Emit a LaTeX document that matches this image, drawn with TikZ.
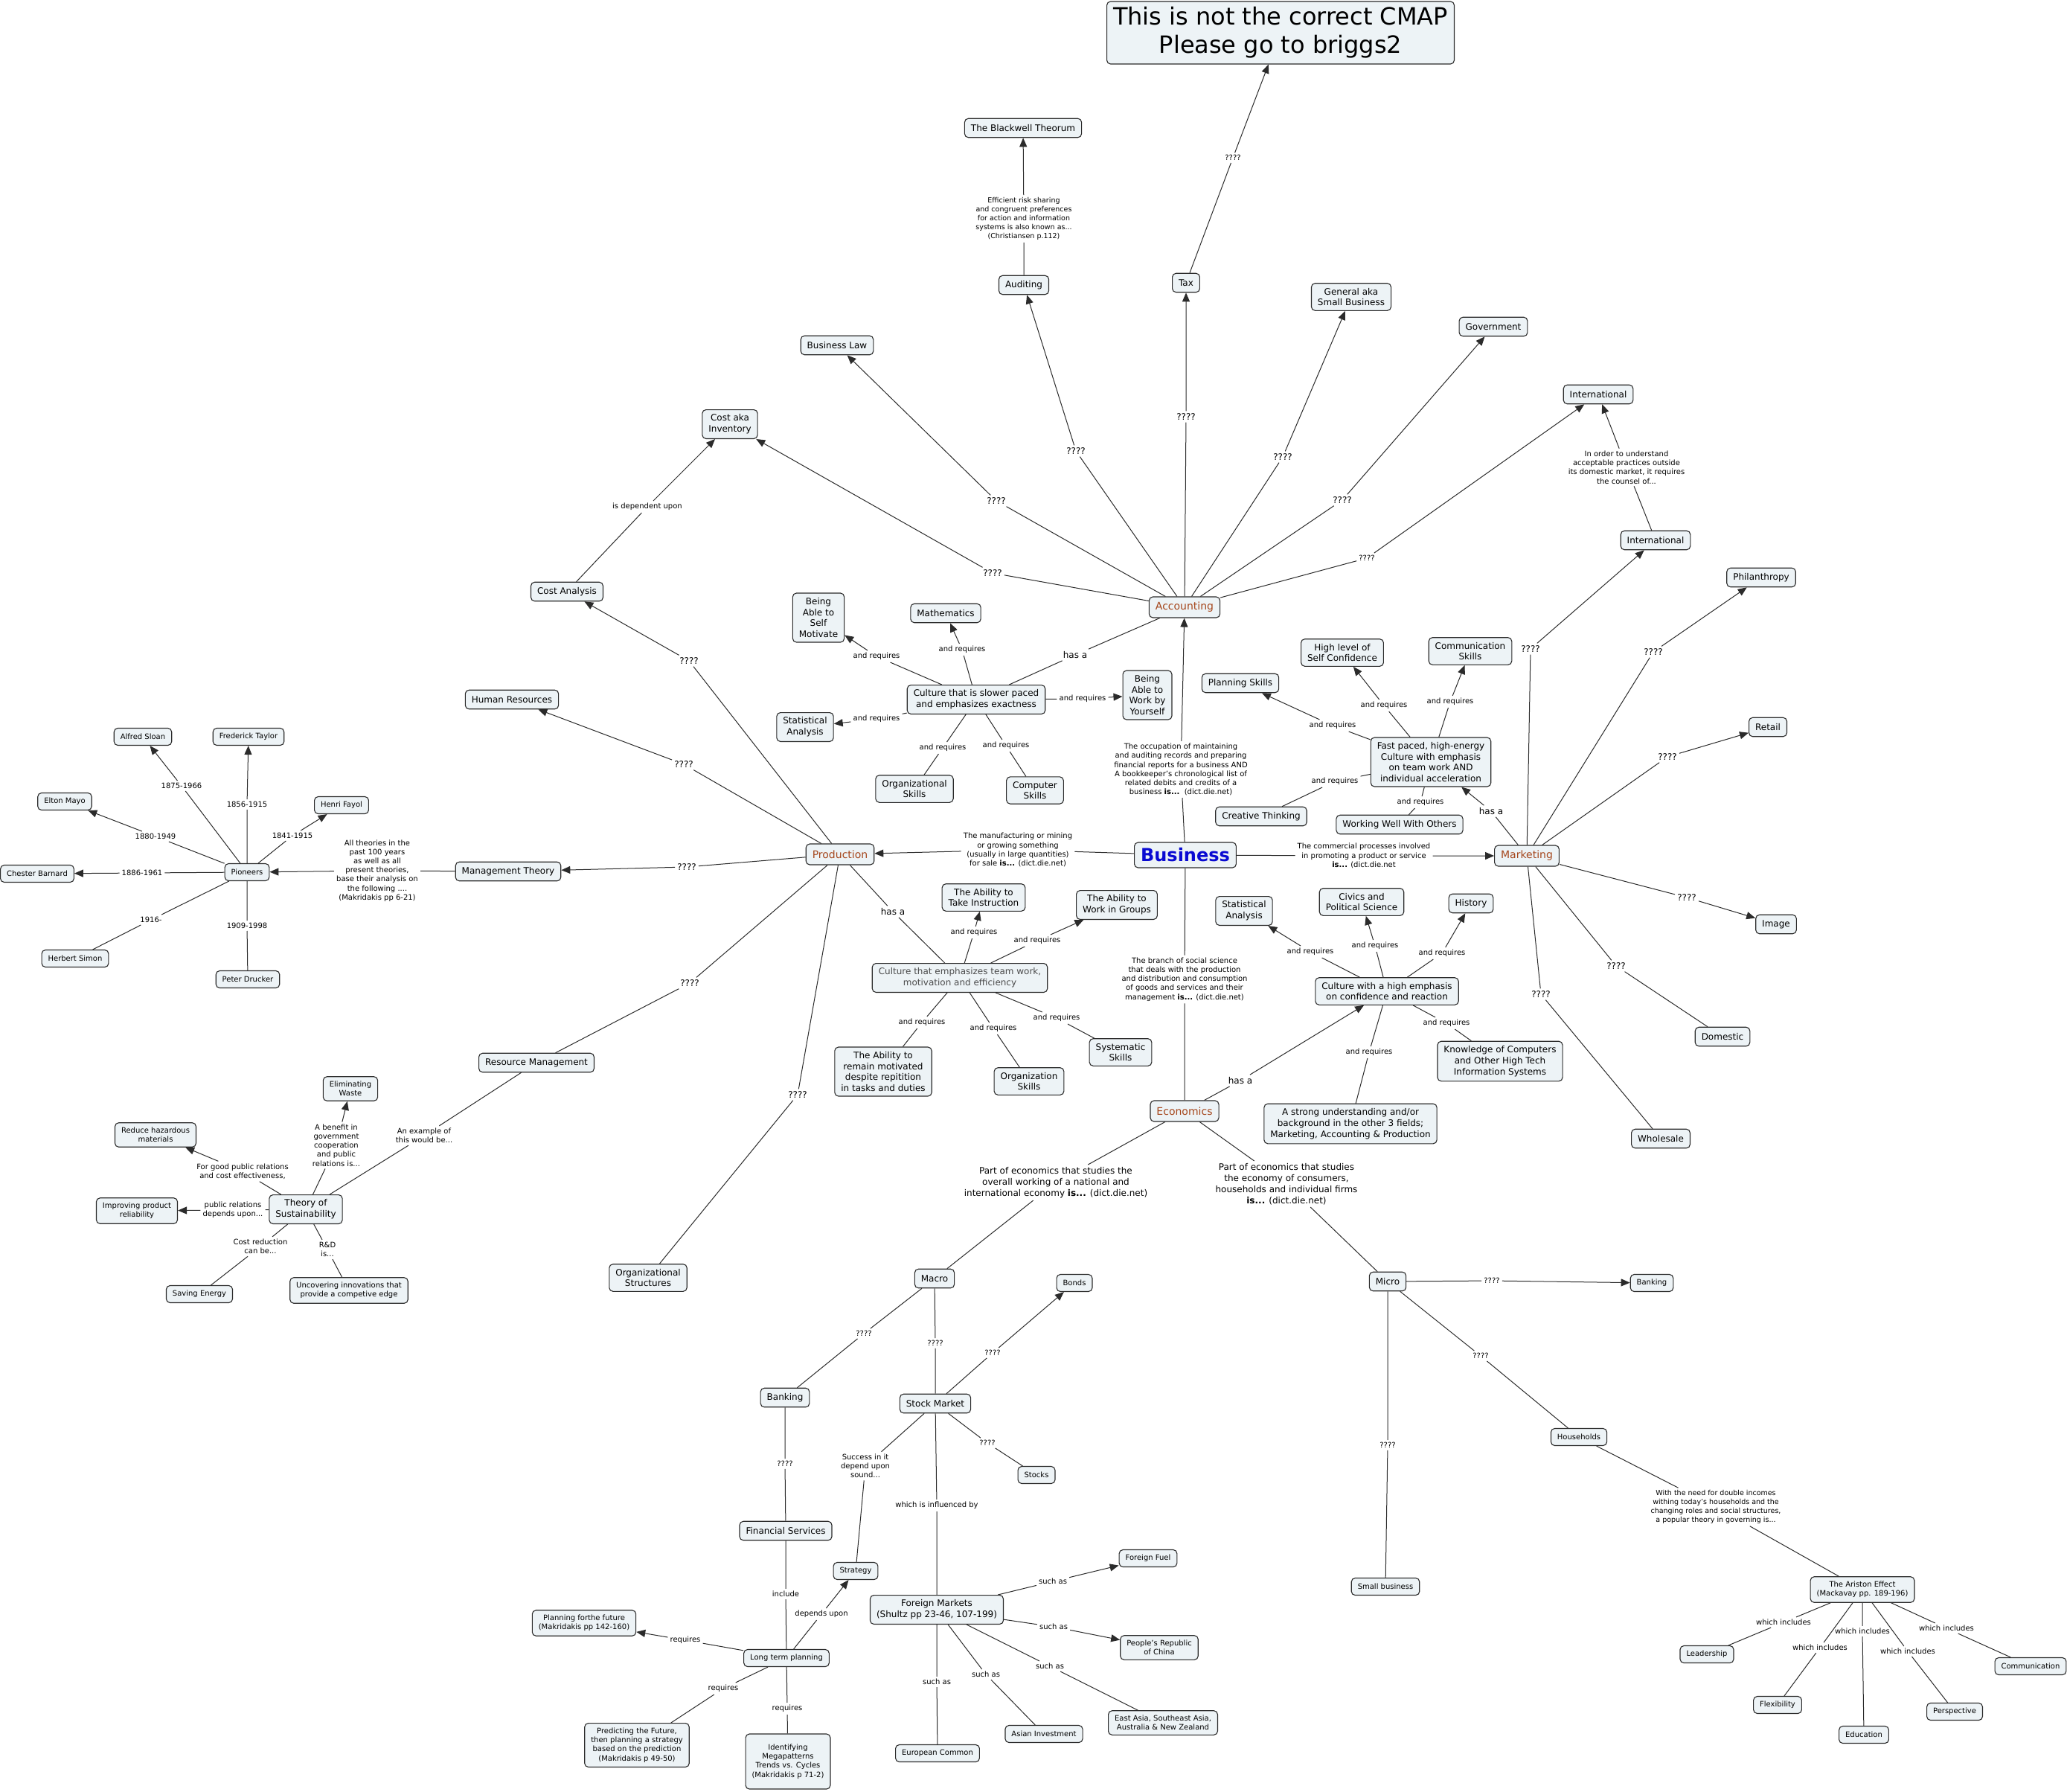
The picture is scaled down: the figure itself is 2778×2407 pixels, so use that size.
\documentclass[tikz,border=0pt]{standalone}
\usepackage{fontspec}
\setmainfont{DejaVu Sans}
\usepackage{tikz}
\usetikzlibrary{arrows.meta}
\definecolor{cfill}{HTML}{EDF3F6}
\definecolor{cline}{HTML}{2B2B2B}
\definecolor{hdr}{HTML}{A5461C}
\definecolor{busblue}{HTML}{0A0AD2}

\begin{document}
\begin{tikzpicture}[x=1pt, y=-1pt,
    ftw/.style={font=\fontsize{12}{14.7}\selectfont, minimum height=25.5pt},
    ften/.style={font=\fontsize{10}{12.2}\selectfont, minimum height=23pt},
    cpt/.style={draw=cline, fill=cfill, rounded corners=5pt, line width=1.1pt, align=center,
                inner xsep=8.5pt, inner ysep=6.3pt, ftw},
    sm/.style={ften},
    hd/.style={font=\fontsize{14}{17}\selectfont, minimum height=28pt, text=hdr},
    lbl/.style={inner sep=3pt, align=center, font=\fontsize{10}{12.2}\selectfont},
    lblb/.style={lbl, font=\fontsize{12}{15}\selectfont},
    lnk/.style={draw=cline, line width=1pt},
    arr/.style={lnk, -{Triangle[length=12pt, width=10pt]}}]
    \useasboundingbox (0,0) rectangle (2778,2407);
    % top
    \node [cpt, font=\fontsize{32}{38}\selectfont, minimum height=84pt] (title) at (1721, 44) {This is not the correct CMAP\\Please go to briggs2};
    \node [cpt] (blackwell) at (1375, 172) {The Blackwell Theorum};
    \node [cpt] (auditing) at (1376, 383) {Auditing};
    \node [cpt] (tax) at (1594, 380) {Tax};
    \node [cpt] (general) at (1816, 399) {General aka\\Small Business};
    \node [cpt] (govt) at (2007, 439) {Government};
    \node [cpt] (intlA) at (2148, 530) {International};
    \node [cpt] (intlB) at (2225, 726) {International};
    \node [cpt] (buslaw) at (1125, 464) {Business Law};
    \node [cpt] (costinv) at (981, 570) {Cost aka\\Inventory};
    \node [cpt] (costan) at (762, 795) {Cost Analysis};
    \node [cpt, hd] (acc) at (1592, 816) {Accounting};
    % accounting culture
    \node [cpt] (selfmot) at (1100, 830) {Being\\Able to\\Self\\Motivate};
    \node [cpt] (math) at (1271, 824) {Mathematics};
    \node [cpt] (slow) at (1312, 940) {Culture that is slower paced\\and emphasizes exactness};
    \node [cpt] (statA) at (1082, 977) {Statistical\\Analysis};
    \node [cpt] (alone) at (1542, 934) {Being\\Able to\\Work by\\Yourself};
    \node [cpt] (orgsk) at (1229, 1060) {Organizational\\Skills};
    \node [cpt] (compsk) at (1391, 1062) {Computer\\Skills};
    % marketing culture
    \node [cpt] (plan) at (1667, 918) {Planning Skills};
    \node [cpt] (selfconf) at (1804, 877) {High level of\\Self Confidence};
    \node [cpt] (commsk) at (1976, 875) {Communication\\Skills};
    \node [cpt] (fast) at (1923, 1024) {Fast paced, high-energy\\Culture with emphasis\\on team work AND\\individual acceleration};
    \node [cpt] (creat) at (1695, 1097) {Creative Thinking};
    \node [cpt] (wwo) at (1881, 1108) {Working Well With Others};
    % center
    \node [cpt, font=\fontsize{24}{28}\selectfont\bfseries, minimum height=34pt, inner ysep=4pt, text=busblue] (bus) at (1593, 1149) {Business};
    \node [cpt, hd] (prod) at (1129, 1148) {Production};
    \node [cpt, hd] (mkt) at (2052, 1150) {Marketing};
    \node [cpt, hd] (econ) at (1592, 1493) {Economics};
    % production culture
    \node [cpt] (instr) at (1322, 1206) {The Ability to\\Take Instruction};
    \node [cpt] (groups) at (1501, 1216) {The Ability to\\Work in Groups};
    \node [cpt, text=black!70] (team) at (1290, 1314) {Culture that emphasizes team work,\\motivation and efficiency};
    \node [cpt] (remain) at (1187, 1440) {The Ability to\\remain motivated\\despite repitition\\in tasks and duties};
    \node [cpt] (orgsk2) at (1383, 1453) {Organization\\Skills};
    \node [cpt] (syst) at (1506, 1414) {Systematic\\Skills};
    % economics culture
    \node [cpt] (statB) at (1672, 1224) {Statistical\\Analysis};
    \node [cpt] (civics) at (1830, 1212) {Civics and\\Political Science};
    \node [cpt] (history) at (1977, 1214) {History};
    \node [cpt] (conf) at (1864, 1332) {Culture with a high emphasis\\on confidence and reaction};
    \node [cpt] (know) at (2016, 1426) {Knowledge of Computers\\and Other High Tech\\Information Systems};
    \node [cpt] (strong) at (1815, 1510) {A strong understanding and/or\\background in the other 3 fields;\\Marketing, Accounting \& Production};
    % marketing fan
    \node [cpt] (phil) at (2367, 776) {Philanthropy};
    \node [cpt] (retail) at (2376, 977) {Retail};
    \node [cpt] (image) at (2387, 1242) {Image};
    \node [cpt] (domestic) at (2315, 1393) {Domestic};
    \node [cpt] (whole) at (2232, 1530) {Wholesale};
    % production, left side
    \node [cpt] (hr) at (688, 940) {Human Resources};
    \node [cpt] (mgmt) at (683, 1171) {Management Theory};
    \node [cpt, sm] (pion) at (332, 1172) {Pioneers};
    \node [cpt, sm] (sloan) at (192, 990) {Alfred Sloan};
    \node [cpt, sm] (taylor) at (334, 990) {Frederick Taylor};
    \node [cpt, sm] (mayo) at (87, 1077) {Elton Mayo};
    \node [cpt, sm] (fayol) at (459, 1082) {Henri Fayol};
    \node [cpt, sm] (barnard) at (50, 1174) {Chester Barnard};
    \node [cpt, sm] (simon) at (101, 1288) {Herbert Simon};
    \node [cpt, sm] (drucker) at (333, 1316) {Peter Drucker};
    \node [cpt] (resmgmt) at (721, 1428) {Resource Management};
    \node [cpt, sm] (waste) at (471, 1463) {Eliminating\\Waste};
    \node [cpt, sm] (hazard) at (209, 1525) {Reduce hazardous\\materials};
    \node [cpt] (sustain) at (411, 1625) {Theory of\\Sustainability};
    \node [cpt, sm] (reliab) at (184, 1627) {Improving product\\reliability};
    \node [cpt, sm] (energy) at (268, 1739) {Saving Energy};
    \node [cpt, sm] (innov) at (469, 1734) {Uncovering innovations that\\provide a competive edge};
    \node [cpt] (orgstr) at (871, 1717) {Organizational\\Structures};
    % economics, bottom
    \node [cpt] (macro) at (1256, 1718) {Macro};
    \node [cpt] (micro) at (1865, 1722) {Micro};
    \node [cpt, sm] (bonds) at (1444, 1724) {Bonds};
    \node [cpt] (bankA) at (1055, 1878) {Banking};
    \node [cpt] (stock) at (1257, 1886) {Stock Market};
    \node [cpt, sm] (stocks) at (1393, 1982) {Stocks};
    \node [cpt, sm] (strat) at (1150, 2111) {Strategy};
    \node [cpt] (finserv) at (1056, 2057) {Financial Services};
    \node [cpt] (foreign) at (1259, 2163) {Foreign Markets\\(Shultz pp 23-46, 107-199)};
    \node [cpt, sm] (longterm) at (1057, 2228) {Long term planning};
    \node [cpt, sm] (planfut) at (785, 2181) {Planning forthe future\\(Makridakis pp 142-160)};
    \node [cpt, sm] (predict) at (856, 2345) {Predicting the Future,\\then planning a strategy\\based on the prediction\\(Makridakis p 49-50)};
    \node [cpt, sm, minimum height=74pt] (megapat) at (1059, 2367) {Identifying\\Megapatterns\\Trends vs. Cycles\\(Makridakis p 71-2)};
    \node [cpt, sm] (fuel) at (1543, 2094) {Foreign Fuel};
    \node [cpt, sm] (china) at (1558, 2214) {People's Republic\\of China};
    \node [cpt, sm] (eastasia) at (1563, 2315) {East Asia, Southeast Asia,\\Australia \& New Zealand};
    \node [cpt, sm] (asian) at (1403, 2330) {Asian Investment};
    \node [cpt, sm] (euro) at (1260, 2356) {European Common};
    \node [cpt, sm] (bankB) at (2220, 1724) {Banking};
    \node [cpt, sm] (house) at (2122, 1931) {Households};
    \node [cpt, sm] (small) at (1862, 2132) {Small business};
    \node [cpt, sm] (ariston) at (2503, 2136) {The Ariston Effect\\(Mackavay pp. 189-196)};
    \node [cpt, sm] (lead) at (2294, 2223) {Leadership};
    \node [cpt, sm] (flex) at (2389, 2291) {Flexibility};
    \node [cpt, sm] (educ) at (2505, 2331) {Education};
    \node [cpt, sm] (persp) at (2627, 2300) {Perspective};
    \node [cpt, sm] (commB) at (2729, 2239) {Communication};

    % linking phrases
    \node [lbl] (lq0) at (1657, 212) {????};
    \node [lbl, font=\fontsize{9.5}{12}\selectfont] (leff) at (1376, 294) {Efficient risk sharing\\and congruent preferences\\for action and information\\systems is also known as...\\(Christiansen p.112)};
    \node [lblb] (lqa1) at (1334, 770) {????};
    \node [lblb] (lqa2) at (1339, 673) {????};
    \node [lblb] (lqa3) at (1446, 606) {????};
    \node [lblb] (lqa4) at (1594, 560) {????};
    \node [lblb] (lqa5) at (1724, 614) {????};
    \node [lblb] (lqa6) at (1804, 672) {????};
    \node [lbl] (lqa7) at (1837, 750) {????};
    \node [lbl] (lintl) at (2186, 628) {In order to understand\\acceptable practices outside\\its domestic market, it requires\\the counsel of...};
    \node [lbl] (ldep) at (870, 681) {is dependent upon};
    \node [lblb] (lqp1) at (926, 888) {????};
    \node [lblb] (lqp2) at (919, 1027) {????};
    \node [lblb] (lqp3) at (923, 1165) {????};
    \node [lblb] (lqp4) at (927, 1321) {????};
    \node [lblb] (lqp5) at (1072, 1471) {????};
    % accounting culture
    \node [lbl] (lar1) at (1178, 882) {and requires};
    \node [lbl] (lar2) at (1293, 873) {and requires};
    \node [lblb] (lhas1) at (1445, 880) {has a};
    \node [lbl] (lar3) at (1455, 939) {and requires};
    \node [lbl] (lar4) at (1178, 966) {and requires};
    \node [lbl] (lar5) at (1267, 1005) {and requires};
    \node [lbl] (lar6) at (1352, 1002) {and requires};
    \node [lbl] (locc) at (1587, 1034) {The occupation of maintaining\\and auditing records and preparing\\financial reports for a business AND\\A bookkeeper's chronological list of\\related debits and credits of a\\business \textbf{is...}\ \ (dict.die.net)};
    % marketing culture
    \node [lbl] (lmr1) at (1791, 975) {and requires};
    \node [lbl] (lmr2) at (1860, 948) {and requires};
    \node [lbl] (lmr3) at (1949, 943) {and requires};
    \node [lbl] (lmr4) at (1794, 1050) {and requires};
    \node [lbl] (lmr5) at (1909, 1078) {and requires};
    \node [lblb] (lhas2) at (2004, 1090) {has a};
    % definitions round business
    \node [lbl] (lman) at (1368, 1142) {The manufacturing or mining\\or growing something\\(usually in large quantities)\\for sale \textbf{is...} (dict.die.net)};
    \node [lbl] (lcom) at (1833, 1150) {The commercial processes involved\\in promoting a product or service\\\textbf{is...} (dict.die.net};
    \node [lbl] (lbr) at (1592, 1316) {The branch of social science\\that deals with the production\\and distribution and consumption\\of goods and services and their\\management \textbf{is...} (dict.die.net)};
    % production culture
    \node [lblb] (lhas3) at (1200, 1225) {has a};
    \node [lbl] (ltr1) at (1309, 1253) {and requires};
    \node [lbl] (ltr2) at (1394, 1264) {and requires};
    \node [lbl] (ltr3) at (1239, 1374) {and requires};
    \node [lbl] (ltr4) at (1335, 1382) {and requires};
    \node [lbl] (ltr5) at (1420, 1368) {and requires};
    % economics culture
    \node [lblb] (lhas4) at (1667, 1452) {has a};
    \node [lbl] (ler1) at (1761, 1279) {and requires};
    \node [lbl] (ler2) at (1848, 1271) {and requires};
    \node [lbl] (ler3) at (1938, 1281) {and requires};
    \node [lbl] (ler4) at (1944, 1375) {and requires};
    \node [lbl] (ler5) at (1840, 1414) {and requires};
    % marketing fan
    \node [lblb] (lqm1) at (2057, 872) {????};
    \node [lblb] (lqm2) at (2222, 876) {????};
    \node [lblb] (lqm3) at (2241, 1017) {????};
    \node [lblb] (lqm4) at (2267, 1206) {????};
    \node [lblb] (lqm5) at (2172, 1298) {????};
    \node [lblb] (lqm6) at (2071, 1336) {????};
    % pioneers
    \node [lbl] (lall) at (507, 1170) {All theories in the\\past 100 years\\as well as all\\present theories,\\base their analysis on\\the following ....\\(Makridakis pp 6-21)};
    \node [lbl] (ly1) at (244, 1056) {1875-1966};
    \node [lbl] (ly2) at (332, 1081) {1856-1915};
    \node [lbl] (ly3) at (393, 1123) {1841-1915};
    \node [lbl] (ly4) at (209, 1124) {1880-1949};
    \node [lbl] (ly5) at (191, 1173) {1886-1961};
    \node [lbl] (ly6) at (203, 1236) {1916-};
    \node [lbl] (ly7) at (332, 1244) {1909-1998};
    % sustainability
    \node [lbl] (lex) at (570, 1526) {An example of\\this would be...};
    \node [lbl] (lben) at (452, 1539) {A benefit in\\government\\cooperation\\and public\\relations is...};
    \node [lbl] (lgood) at (326, 1574) {For good public relations\\and cost effectiveness,};
    \node [lbl] (lpub) at (313, 1626) {public relations\\depends upon...};
    \node [lbl] (lcost) at (350, 1675) {Cost reduction\\can be...};
    \node [lbl] (lrd) at (440, 1679) {R\&D\\is...};
    % macro and micro
    \node [lblb] (lmac) at (1419, 1589) {Part of economics that studies the\\overall working of a national and\\international economy \textbf{is...} (dict.die.net)};
    \node [lblb] (lmic) at (1729, 1591) {Part of economics that studies\\the economy of consumers,\\households and individual firms\\\textbf{is...} (dict.die.net)};
    \node [lbl] (lqb1) at (1161, 1792) {????};
    \node [lbl] (lqb2) at (1257, 1805) {????};
    \node [lbl] (lqb3) at (1334, 1818) {????};
    \node [lbl] (lqb4) at (1327, 1939) {????};
    \node [lbl] (lsuc) at (1163, 1970) {Success in it\\depend upon\\sound...};
    \node [lbl] (linf) at (1259, 2023) {which is influenced by};
    \node [lbl] (lqb5) at (1055, 1967) {????};
    \node [lbl] (linc) at (1056, 2142) {include};
    \node [lbl] (ldeps) at (1104, 2169) {depends upon};
    \node [lbl] (lrq1) at (921, 2204) {requires};
    \node [lbl] (lrq2) at (972, 2269) {requires};
    \node [lbl] (lrq3) at (1058, 2296) {requires};
    \node [lbl] (lsa1) at (1415, 2125) {such as};
    \node [lbl] (lsa2) at (1416, 2186) {such as};
    \node [lbl] (lsa3) at (1411, 2239) {such as};
    \node [lbl] (lsa4) at (1325, 2250) {such as};
    \node [lbl] (lsa5) at (1259, 2260) {such as};
    \node [lbl] (lqc1) at (2005, 1721) {????};
    \node [lbl] (lqc2) at (1990, 1822) {????};
    \node [lbl] (lqc3) at (1865, 1942) {????};
    \node [lbl, font=\fontsize{9.5}{12}\selectfont] (lwith) at (2306, 2025) {With the need for double incomes\\withing today's households and the\\changing roles and social structures,\\a popular theory in governing is...};
    \node [lbl] (lwi1) at (2397, 2180) {which includes};
    \node [lbl] (lwi2) at (2446, 2214) {which includes};
    \node [lbl] (lwi3) at (2503, 2192) {which includes};
    \node [lbl] (lwi4) at (2564, 2219) {which includes};
    \node [lbl] (lwi5) at (2616, 2188) {which includes};

    % connectors, accounting
    \draw [arr] (tax) to (lq0) to (title);
    \draw [arr] (auditing) to (leff) to (blackwell);
    \draw [arr] (acc) to (lqa1) to (costinv);
    \draw [arr] (acc) to (lqa2) to (buslaw);
    \draw [arr] (acc) to (lqa3) to (auditing);
    \draw [arr] (acc) to (lqa4) to (tax);
    \draw [arr] (acc) to (lqa5) to (general);
    \draw [arr] (acc) to (lqa6) to (govt);
    \draw [arr] (acc) to (lqa7) to (intlA);
    \draw [arr] (intlB) to (lintl) to (intlA);
    \draw [arr] (costan) to (ldep) to (costinv);
    \draw [lnk] (acc) to (lhas1) to (slow);
    \draw [arr] (slow) to (lar1) to (selfmot);
    \draw [arr] (slow) to (lar2) to (math);
    \draw [arr] (slow) to (lar3) to (alone);
    \draw [arr] (slow) to (lar4) to (statA);
    \draw [lnk] (slow) to (lar5) to (orgsk);
    \draw [lnk] (slow) to (lar6) to (compsk);
    % business
    \draw [arr] (bus) to (locc) to (acc);
    \draw [arr] (bus) to (lman) to (prod);
    \draw [arr] (bus) to (lcom) to (mkt);
    \draw [lnk] (bus) to (lbr) to (econ);
    % marketing
    \draw [arr] (mkt) to (lhas2) to (fast);
    \draw [arr] (fast) to (lmr1) to (plan);
    \draw [arr] (fast) to (lmr2) to (selfconf);
    \draw [arr] (fast) to (lmr3) to (commsk);
    \draw [lnk] (fast) to (lmr4) to (creat);
    \draw [lnk] (fast) to (lmr5) to (wwo);
    \draw [arr] (mkt) to (lqm1) to (intlB);
    \draw [arr] (mkt) to (lqm2) to (phil);
    \draw [arr] (mkt) to (lqm3) to (retail);
    \draw [arr] (mkt) to (lqm4) to (image);
    \draw [lnk] (mkt) to (lqm5) to (domestic);
    \draw [lnk] (mkt) to (lqm6) to (whole);
    % production
    \draw [arr] (prod) to (lqp1) to (costan);
    \draw [arr] (prod) to (lqp2) to (hr);
    \draw [arr] (prod) to (lqp3) to (mgmt);
    \draw [lnk] (prod) to (lqp4) to (resmgmt);
    \draw [lnk] (prod) to (lqp5) to (orgstr);
    \draw [lnk] (prod) to (lhas3) to (team);
    \draw [arr] (team) to (ltr1) to (instr);
    \draw [arr] (team) to (ltr2) to (groups);
    \draw [lnk] (team) to (ltr3) to (remain);
    \draw [lnk] (team) to (ltr4) to (orgsk2);
    \draw [lnk] (team) to (ltr5) to (syst);
    \draw [arr] (mgmt) to (lall) to (pion);
    \draw [arr] (pion) to (ly1) to (sloan);
    \draw [arr] (pion) to (ly2) to (taylor);
    \draw [arr] (pion) to (ly3) to (fayol);
    \draw [arr] (pion) to (ly4) to (mayo);
    \draw [arr] (pion) to (ly5) to (barnard);
    \draw [lnk] (pion) to (ly6) to (simon);
    \draw [lnk] (pion) to (ly7) to (drucker);
    \draw [lnk] (resmgmt) to (lex) to (sustain);
    \draw [arr] (sustain) to (lben) to (waste);
    \draw [arr] (sustain) to (lgood) to (hazard);
    \draw [arr] (sustain) to (lpub) to (reliab);
    \draw [lnk] (sustain) to (lcost) to (energy);
    \draw [lnk] (sustain) to (lrd) to (innov);
    % economics
    \draw [arr] (econ) to (lhas4) to (conf);
    \draw [arr] (conf) to (ler1) to (statB);
    \draw [arr] (conf) to (ler2) to (civics);
    \draw [arr] (conf) to (ler3) to (history);
    \draw [lnk] (conf) to (ler4) to (know);
    \draw [lnk] (conf) to (ler5) to (strong);
    \draw [lnk] (econ) to (lmac) to (macro);
    \draw [lnk] (econ) to (lmic) to (micro);
    \draw [lnk] (macro) to (lqb1) to (bankA);
    \draw [lnk] (macro) to (lqb2) to (stock);
    \draw [arr] (stock) to (lqb3) to (bonds);
    \draw [lnk] (stock) to (lqb4) to (stocks);
    \draw [lnk] (stock) to (lsuc) to (strat);
    \draw [lnk] (stock) to (linf) to (foreign);
    \draw [lnk] (bankA) to (lqb5) to (finserv);
    \draw [lnk] (finserv) to (linc) to (longterm);
    \draw [arr] (longterm) to (ldeps) to (strat);
    \draw [arr] (longterm) to (lrq1) to (planfut);
    \draw [lnk] (longterm) to (lrq2) to (predict);
    \draw [lnk] (longterm) to (lrq3) to (megapat);
    \draw [arr] (foreign) to (lsa1) to (fuel);
    \draw [arr] (foreign) to (lsa2) to (china);
    \draw [lnk] (foreign) to (lsa3) to (eastasia);
    \draw [lnk] (foreign) to (lsa4) to (asian);
    \draw [lnk] (foreign) to (lsa5) to (euro);
    \draw [arr] (micro) to (lqc1) to (bankB);
    \draw [lnk] (micro) to (lqc2) to (house);
    \draw [lnk] (micro) to (lqc3) to (small);
    \draw [lnk] (house) to (lwith) to (ariston);
    \draw [lnk] (ariston) to (lwi1) to (lead);
    \draw [lnk] (ariston) to (lwi2) to (flex);
    \draw [lnk] (ariston) to (lwi3) to (educ);
    \draw [lnk] (ariston) to (lwi4) to (persp);
    \draw [lnk] (ariston) to (lwi5) to (commB);
\end{tikzpicture}
\end{document}
